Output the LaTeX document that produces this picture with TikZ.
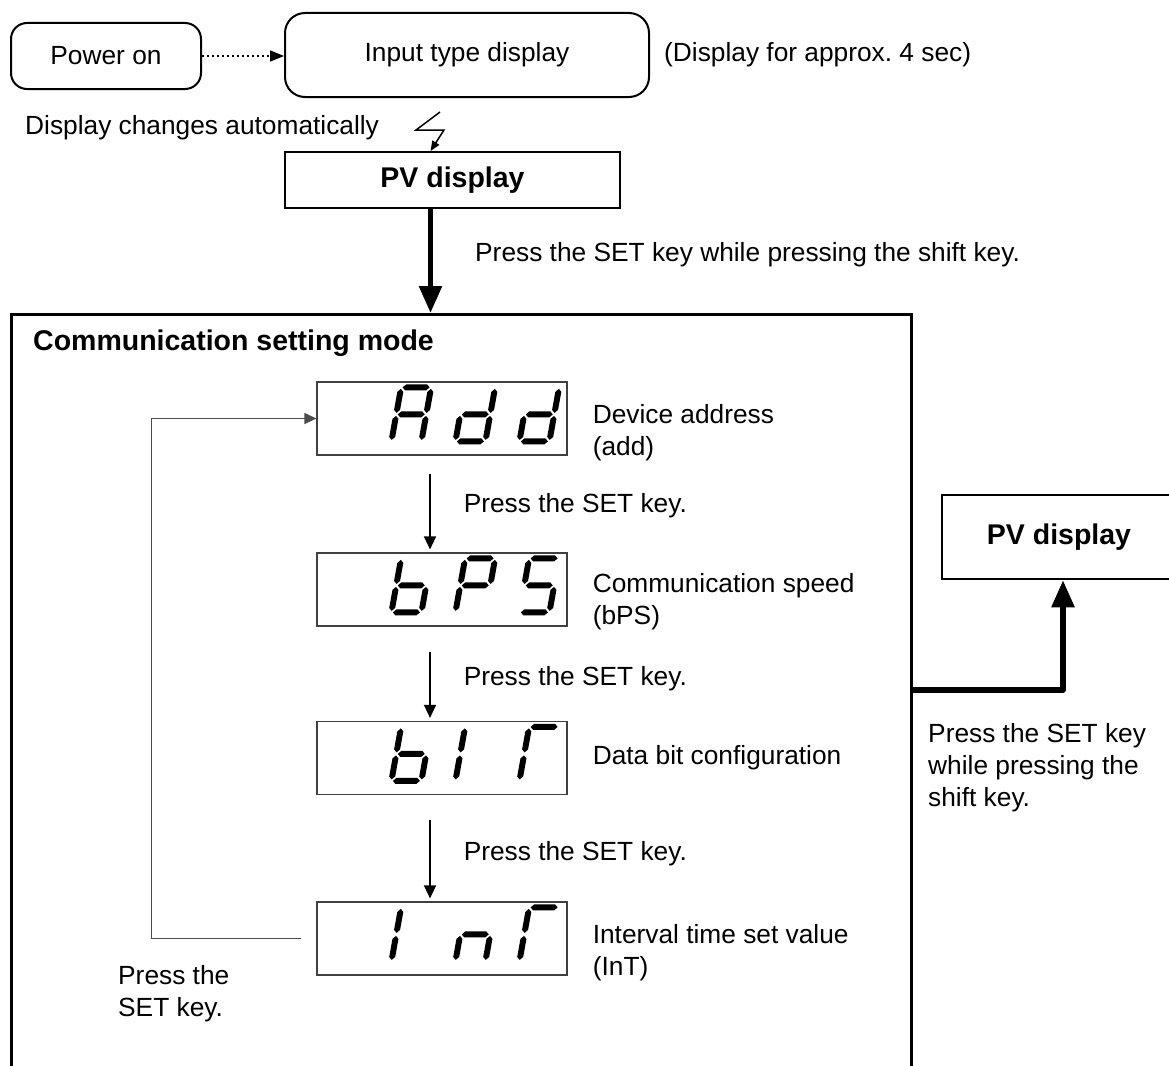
\documentclass[tikz,border=0pt]{standalone}
\usepackage{fontspec}
\setmainfont{Liberation Sans}
\usetikzlibrary{arrows.meta}

% segments of one digit, a=top ... g=middle
\def\dsega{(1.5,54) -- (4.5,57) -- (25.5,57) -- (28.5,54) -- (25.5,51) -- (4.5,51) -- cycle}
\def\dsegb{(30,28.5) -- (33,31.5) -- (33,49.5) -- (30,52.5) -- (27,49.5) -- (27,31.5) -- cycle}
\def\dsegc{(30,1.5) -- (33,4.5) -- (33,22.5) -- (30,25.5) -- (27,22.5) -- (27,4.5) -- cycle}
\def\dsegd{(1.5,0) -- (4.5,3) -- (25.5,3) -- (28.5,0) -- (25.5,-3) -- (4.5,-3) -- cycle}
\def\dsege{(0,1.5) -- (3,4.5) -- (3,22.5) -- (0,25.5) -- (-3,22.5) -- (-3,4.5) -- cycle}
\def\dsegf{(0,28.5) -- (3,31.5) -- (3,49.5) -- (0,52.5) -- (-3,49.5) -- (-3,31.5) -- cycle}
\def\dsegg{(1.5,27) -- (4.5,30) -- (25.5,30) -- (28.5,27) -- (25.5,24) -- (4.5,24) -- cycle}
\newcommand{\segdigit}[3]{%
  \begin{scope}[shift={(#1.north west)}, shift={(75+64*#2,60)}, xslant=0.18, yscale=-1]
    \foreach \s in {#3} {\expandafter\fill\csname dseg\s\endcsname;}
  \end{scope}}

\tikzset{
  lbl/.style={font=\fontsize{26.3}{32}\selectfont, inner sep=0pt, align=left},
  boldlbl/.style={font=\fontsize{28.5}{34}\selectfont\bfseries, inner sep=0pt},
  roundbox/.style={draw, line width=2pt, rounded corners=16pt, inner sep=0pt,
                   font=\fontsize{26.3}{32}\selectfont},
  pvbox/.style={draw, line width=2pt, inner sep=0pt, font=\fontsize{28.5}{34}\selectfont\bfseries},
  dispbox/.style={draw=black!75, line width=1.2pt, minimum width=250pt, minimum height=73pt, inner sep=0pt},
  modebox/.style={draw, line width=2.5pt, inner sep=0pt, anchor=north west},
  setarrow/.style={line width=1.5pt, -{Triangle[length=13pt,width=12pt]}},
  bigarrow/.style={line width=5.5pt, -{Triangle[length=27pt,width=22pt]}},
  looparrow/.style={draw=black!70, line width=1.2pt, -{Triangle[length=12pt,width=11pt]}},
  dotarrow/.style={line width=1.5pt, dash pattern=on 2pt off 3pt, -{Triangle[length=14pt,width=11pt]}},
  zigarrow/.style={line width=1.5pt, -{Triangle[length=10pt,width=8pt]}},
}

\begin{document}
\begin{tikzpicture}[x=1pt,y=-1pt]
\useasboundingbox (0,0) rectangle (1169,1065);
\clip (0,0) rectangle (1169,1065);

\node[roundbox, minimum width=190pt, minimum height=66pt] (pwr) at (106,56) {Power on};
\node[roundbox, rounded corners=20pt, minimum width=364pt, minimum height=84pt] (inp) 
     at (467,55) {Input type display};
\node[lbl, anchor=west] (dur) at ([xshift=14pt]inp.east) {(Display for approx.\ 4 sec)};
\draw[dotarrow] (pwr.east) -- (pwr.east -| inp.west);

\node[lbl, anchor=west] (auto) at (25,128) {Display changes automatically};
\node[pvbox, minimum width=335pt, minimum height=56pt] (pv) at (452.5,180) {PV display};
\coordinate (zig) at (440,112);
\draw[zigarrow] (zig) -- ++(-24,18) -- ++(28,0) -- ([xshift=-22pt]pv.north);

\node[modebox, minimum width=900pt, minimum height=800pt] (mode) at (10,313) {};
\coordinate (pvout) at ([xshift=-22pt]pv.south);
\draw[bigarrow] (pvout) -- (pvout |- mode.north);
\node[lbl, anchor=west] (hint) at (475,255) {Press the SET key while pressing the shift key.};
\node[boldlbl, anchor=west] (title) at (33,343) {Communication setting mode};

\node[dispbox] (add) at (442,418.5) {};
\node[dispbox] (bps) at (442,589.5) {};
\node[dispbox] (bit) at (442,758) {};
\node[dispbox] (int) at (442,938.5) {};

\segdigit{add}{0}{a,b,c,e,f,g}
\segdigit{add}{1}{b,c,d,e,g}
\segdigit{add}{2}{b,c,d,e,g}
\segdigit{bps}{0}{c,d,e,f,g}
\segdigit{bps}{1}{a,b,e,f,g}
\segdigit{bps}{2}{a,f,g,c,d}
\segdigit{bit}{0}{c,d,e,f,g}
\segdigit{bit}{1}{e,f}
\segdigit{bit}{2}{a,e,f}
\segdigit{int}{0}{e,f}
\segdigit{int}{1}{c,e,g}
\segdigit{int}{2}{a,e,f}

\node[lbl, anchor=west] (addtxt) at ([xshift=25pt,yshift=-14pt]add.east) {Device address\\(add)};
\node[lbl, anchor=west] (bpstxt) at ([xshift=25pt,yshift=-12pt]bps.east) {Communication speed\\(bPS)};
\node[lbl, anchor=west] (bittxt) at ([xshift=25pt]bit.east) {Data bit configuration};
\node[lbl, anchor=west] (inttxt) at ([xshift=25pt,yshift=-14pt]int.east) {Interval time set value\\(InT)};

\draw[setarrow] ([xshift=-12pt,yshift=-18pt]add.south) -- 
      node[lbl, right=33pt, yshift=6pt] {Press the SET key.} ([xshift=-12pt,yshift=3pt]bps.north);
\draw[setarrow] ([xshift=-12pt,yshift=-25pt]bps.south) -- 
      node[lbl, right=33pt, yshift=6pt] {Press the SET key.} ([xshift=-12pt,yshift=3pt]bit.north);
\draw[setarrow] ([xshift=-12pt,yshift=-25pt]bit.south) -- 
      node[lbl, right=33pt, yshift=6pt] {Press the SET key.} ([xshift=-12pt,yshift=3pt]int.north);

\draw[looparrow] ([xshift=-15pt]int.west) -| ([xshift=-165pt]add.west) -- (add.west);
\node[lbl, anchor=west] (back) at (118,994) {Press the\\SET key.};

\node[pvbox, line width=2.5pt, minimum width=234pt, minimum height=84pt] (pvr) at (1059,537) {PV display};
\coordinate (rturn) at (1063,690);
\draw[bigarrow, line join=round] (rturn -| mode.east) -- (rturn) -- (rturn |- pvr.south);
\node[lbl, anchor=west] (exit) at (928,768) {Press the SET key\\while pressing the\\shift key.};
\end{tikzpicture}
\end{document}
